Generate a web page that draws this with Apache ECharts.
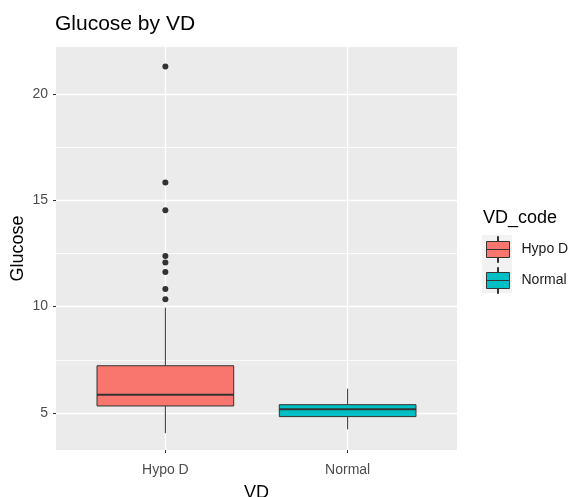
<!DOCTYPE html>
<html>
<head>
<meta charset="utf-8">
<script src="https://cdn.jsdelivr.net/npm/echarts@6/dist/echarts.min.js"></script>
<style>
  html, body { margin: 0; padding: 0; background: #fff; }
  #main { width: 571px; height: 497px; }
</style>
</head>
<body>
<div id="main"></div>
<script>
// categories on the x axis, x positions are 1, 2 like ggplot
const categories = ['Hypo D', 'Normal']
// [x, lower whisker, Q1, median, Q3, upper whisker]
const hypoBox = [1, 4.05, 5.33, 5.86, 7.22, 9.95]
const normalBox = [2, 4.23, 4.83, 5.17, 5.39, 6.14]
// outliers of Hypo D
const hypoOutliers = [21.28, 15.83, 14.53, 12.38, 12.07, 11.63, 10.83, 10.34]
const yTicks = [5, 10, 15, 20]
const yMinor = [7.5, 12.5, 17.5]
const xTicks = [1, 2]

const fills = ['#F8766D', '#00BFC4']
const FONT = '"Liberation Sans", Arial, sans-serif'

// boxplot glyph for legend keys (23 x 26)
const keyIcon = 'path://M11,0 L12,0 L12,5 L11,5 Z M0,5 L23,5 L23,13 L0,13 Z M0,13 L23,13 L23,21 L0,21 Z M11,21 L12,21 L12,26 L11,26 Z'

function renderBox (params, api) {
  const x = api.value(0)
  const lo = api.coord([x, api.value(1)])
  const q1 = api.coord([x, api.value(2)])
  const med = api.coord([x, api.value(3)])
  const q3 = api.coord([x, api.value(4)])
  const hi = api.coord([x, api.value(5)])
  const w = api.size([0.75, 0])[0]
  const fill = api.visual('color')
  const dark = '#333333'
  return {
    type: 'group',
    children: [
      { type: 'line', shape: { x1: lo[0], y1: lo[1], x2: q1[0], y2: q1[1] }, style: { stroke: dark, lineWidth: 1 } },
      { type: 'line', shape: { x1: q3[0], y1: q3[1], x2: hi[0], y2: hi[1] }, style: { stroke: dark, lineWidth: 1 } },
      { type: 'rect', shape: { x: q3[0] - w / 2, y: q3[1], width: w, height: q1[1] - q3[1] }, style: { fill: fill, stroke: dark, lineWidth: 1 } },
      { type: 'line', shape: { x1: med[0] - w / 2, y1: med[1], x2: med[0] + w / 2, y2: med[1] }, style: { stroke: dark, lineWidth: 2 } }
    ]
  }
}

const gridLines = []
yTicks.forEach(v => gridLines.push({ yAxis: v, lineStyle: { width: 1.4 } }))
yMinor.forEach(v => gridLines.push({ yAxis: v, lineStyle: { width: 0.8 } }))
xTicks.forEach(v => gridLines.push({ xAxis: v, lineStyle: { width: 1.4 } }))

const myChart = echarts.init(document.getElementById('main'))
myChart.setOption({
  animation: false,
  title: [
    {
      text: 'Glucose by VD',
      left: 55,
      top: 14,
      padding: 0,
      textStyle: { fontFamily: FONT, fontSize: 21, fontWeight: 'normal', color: '#000' }
    },
    {
      text: 'VD_code',
      left: 483,
      top: 209,
      padding: 0,
      textStyle: { fontFamily: FONT, fontSize: 18, fontWeight: 'normal', color: '#000' }
    }
  ],
  // grey key background, like ggplot's legend.key
  graphic: [
    { type: 'rect', left: 482, top: 235, shape: { width: 30, height: 58 }, style: { fill: '#F2F2F2' }, z: -1 }
  ],
  legend: {
    data: categories,
    orient: 'vertical',
    left: 486,
    top: 236,
    padding: 0,
    itemWidth: 23,
    itemHeight: 26,
    itemGap: 4,
    icon: keyIcon,
    itemStyle: { borderColor: '#333333', borderWidth: 1 },
    textStyle: { fontFamily: FONT, fontSize: 14, color: '#1a1a1a', padding: [0, 0, 0, 7] }
  },
  grid: {
    left: 56,
    right: 114,
    top: 47,
    bottom: 47,
    outerBoundsMode: 'none',
    containLabel: false,
    show: true,
    backgroundColor: '#EBEBEB',
    borderWidth: 0
  },
  xAxis: {
    type: 'value',
    min: 0.4,
    max: 2.6,
    name: 'VD',
    nameLocation: 'middle',
    nameGap: 34,
    nameMoveOverlap: false,
    nameTextStyle: { fontFamily: FONT, fontSize: 18, color: '#000' },
    axisLine: { show: false },
    axisTick: { show: true, customValues: xTicks, length: 3, lineStyle: { color: '#333333' } },
    axisLabel: {
      customValues: xTicks,
      margin: 13,
      fontFamily: FONT,
      fontSize: 14,
      color: '#4D4D4D',
      formatter: v => categories[Math.round(v) - 1]
    },
    splitLine: { show: false }
  },
  yAxis: {
    type: 'value',
    min: 3.26,
    max: 22.2,
    name: 'Glucose',
    nameLocation: 'middle',
    nameRotate: 90,
    nameGap: 29,
    nameMoveOverlap: false,
    nameTextStyle: { fontFamily: FONT, fontSize: 18, color: '#000' },
    axisLine: { show: false },
    axisTick: { show: true, customValues: yTicks, length: 3, lineStyle: { color: '#333333' } },
    axisLabel: {
      customValues: yTicks,
      margin: 8,
      fontFamily: FONT,
      fontSize: 14,
      color: '#4D4D4D'
    },
    splitLine: { show: false }
  },
  series: [
    {
      name: 'grid',
      type: 'line',
      data: [],
      silent: true,
      z: 1,
      markLine: {
        silent: true,
        z: 1,
        symbol: ['none', 'none'],
        label: { show: false },
        lineStyle: { color: '#FFFFFF', type: 'solid' },
        data: gridLines
      }
    },
    {
      name: categories[0],
      type: 'custom',
      z: 3,
      itemStyle: { color: fills[0] },
      renderItem: renderBox,
      encode: { x: 0, y: [1, 2, 3, 4, 5] },
      data: [hypoBox]
    },
    {
      name: categories[1],
      type: 'custom',
      z: 3,
      itemStyle: { color: fills[1] },
      renderItem: renderBox,
      encode: { x: 0, y: [1, 2, 3, 4, 5] },
      data: [normalBox]
    },
    {
      name: 'outliers',
      type: 'scatter',
      z: 4,
      symbolSize: 6,
      itemStyle: { color: '#333333', opacity: 1 },
      data: hypoOutliers.map(v => [1, v])
    }
  ]
})
</script>
</body>
</html>
